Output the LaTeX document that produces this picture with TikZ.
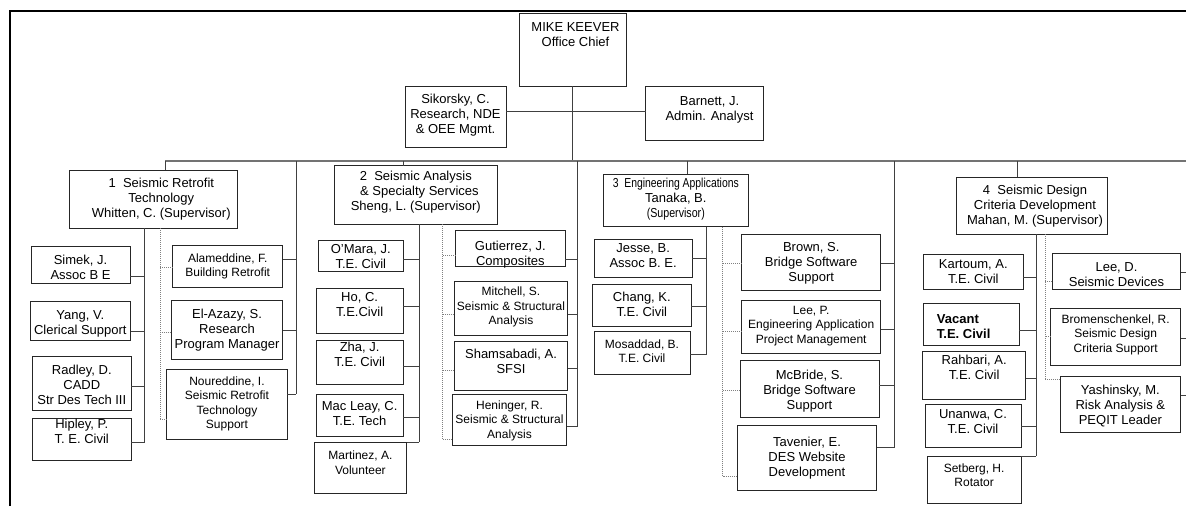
\documentclass[tikz,border=0pt]{standalone}
\usepackage{fontspec}
\usepackage{graphicx}
\setmainfont{Liberation Sans}
\newcommand\ftn{\fontsize{13}{15}\selectfont}
\newcommand\fts{\fontsize{12}{14.5}\selectfont}
\newcommand\bx[8][0]{\node[box,font=#7,anchor=north west,minimum width={(#5)-(#3)},minimum height={(#6)-(#4)}] (#2) at (#3,#4) {\raisebox{-#1pt}[\height][\depth]{\begin{tabular}{@{}c@{}}#8\end{tabular}}};}
\newcommand\bxx[9]{\node[box,font=#7,anchor=north west,minimum width={(#5)-(#3)},minimum height={(#6)-(#4)}] (#2) at (#3,#4) {\hspace*{#9pt}\raisebox{-#1pt}[\height][\depth]{\begin{tabular}{@{}c@{}}#8\end{tabular}}};}
\newcommand\hc[4][ln]{\draw[#1] (#2 |- 0,#4) -- (#3 |- 0,#4);}
\begin{document}
\begin{tikzpicture}[x=1pt,y=-1pt,
  box/.style={draw=black!85,line width=0.8pt,inner sep=0pt,outer sep=0pt,fill=white},
  ln/.style={draw=black!75,line width=0.8pt},
  dl/.style={draw=black!50,line width=0.8pt,dash pattern=on 1pt off 1pt},
  bus/.style={draw=black!55,line width=1.3pt},
  frame/.style={draw=black,line width=2pt}]
\useasboundingbox (0,0) rectangle (1186,506);
\draw[frame] (10,506) -- (10,11) -- (1187,11);
% top level
\bxx{-14}{mike}{519}{13}{626}{86}{\ftn}{MIKE KEEVER\\Office Chief}{6}
\bx[-1.5]{sik}{405}{86}{506}{147}{\ftn}{Sikorsky, C.\\Research, NDE\\\& OEE Mgmt.}
\bxx{-3.5}{bar}{645.5}{86}{763.5}{140.7}{\ftn}{Barnett, J.\\Admin. Analyst}{10}
\coordinate (busL) at (165,161);
\coordinate (busR) at (1186,161);
\coordinate (d2) at (403.3,161);
\coordinate (d3) at (687,161);
\coordinate (d4) at (1017,161);
\coordinate (v1) at (296,161);
\coordinate (v2) at (577.5,161);
\coordinate (v3) at (894.5,161);
\coordinate (v4) at (1187,161);
\draw[ln] (mike.south) -- (mike.south |- busL);
\hc{sik.east}{bar.west}{111}
\draw[bus] (busL) -- (busR);
% group boxes
\bxx{0}{g1}{69.3}{170}{237.3}{228.3}{\ftn}{1~~Seismic Retrofit\\Technology\\Whitten, C. (Supervisor)}{16}
\bx[-2.7]{g2}{334.3}{165.7}{497.3}{224}{\ftn}{2~~Seismic Analysis\\\ \ \& Specialty Services\\Sheng, L. (Supervisor)}
\bx[-1]{g3}{603.3}{174}{748.3}{226.7}{\ftn}{\scalebox{0.8}[1]{3~~Engineering Applications}\\Tanaka, B.\\\scalebox{0.82}[1]{(Supervisor)}}
\bxx{1}{g4}{956.7}{177.3}{1107.3}{234}{\ftn}{4~~Seismic Design\\Criteria Development\\Mahan, M. (Supervisor)}{6}
\draw[ln] (busL) -- (busL |- g1.north);
\draw[ln] (d2) -- (d2 |- g2.north);
\draw[ln] (d3) -- (d3 |- g3.north);
\draw[ln] (d4) -- (d4 |- g4.north);
\draw[ln] (v1) -- (v1 |- 0,394.3);
\draw[ln] (v2) -- (v2 |- 0,426.7);
\draw[ln] (v3) -- (v3 |- 0,447.3);
% group 1
\bx[4]{simek}{31}{246}{130}{283.3}{\ftn}{Simek, J.\\Assoc B E}
\bx[3]{yang}{30}{301.7}{130.7}{340}{\ftn}{Yang, V.\\Clerical Support}
\bx[3]{radley}{32.3}{356}{131.3}{410}{\ftn}{Radley, D.\\CADD\\Str Des Tech III}
\bx[-6]{hipley}{32.3}{418.3}{131.3}{460}{\ftn}{Hipley, P.\\T. E. Civil}
\bx{alam}{172.7}{245}{282.7}{287.7}{\fts}{Alameddine, F.\\Building Retrofit}
\bx[1]{elaz}{171.3}{300}{282.7}{359.3}{\ftn}{El-Azazy, S.\\Research\\Program Manager}
\bx{noured}{166.7}{369.3}{287.3}{439.3}{\fts}{Noureddine, I.\\Seismic Retrofit\\Technology\\Support}
\coordinate (L1) at (144,0);
\coordinate (R1) at (160,0);
\draw[ln] (g1.south -| L1) -- (L1 |- 0,442.7);
\hc{simek.east}{L1}{276}
\hc{yang.east}{L1}{331}
\hc{radley.east}{L1}{386}
\hc{hipley.east}{L1}{442.7}
\draw[dl] (g1.south -| R1) -- (R1 |- 0,419.3);
\hc[dl]{alam.west}{R1}{267.7}
\hc[dl]{elaz.west}{R1}{332.3}
\hc[dl]{noured.west}{R1}{419.3}
\hc{alam.east}{v1}{259.3}
\hc{elaz.east}{v1}{330.7}
\hc{noured.east}{v1}{394.3}
% group 2
\bx[2]{omara}{318.3}{240}{403.3}{271.7}{\ftn}{O'Mara, J.\\T.E. Civil}
\bx[-5]{ho}{316}{288.3}{403.3}{333.3}{\ftn}{Ho, C.\\T.E.Civil}
\bx[-5.7]{zha}{316}{340}{403.3}{384}{\ftn}{Zha, J.\\T.E. Civil}
\bx{macleay}{316}{394}{403.3}{436}{\ftn}{Mac Leay, C.\\T.E. Tech}
\bx[-3.6]{martinez}{314}{442.3}{406.7}{493.3}{\fts}{Martinez, A.\\Volunteer}
\bx[6.5]{gut}{455.7}{230}{565}{266}{\ftn}{Gutierrez, J.\\Composites}
\bx[-1]{mitch}{454.3}{281.7}{567.7}{335}{\fts}{Mitchell, S.\\Seismic \& Structural\\Analysis}
\bx[-3]{shams}{454.3}{341.7}{567.7}{390}{\ftn}{Shamsabadi, A.\\SFSI}
\bx[1]{hen}{452.3}{394.3}{566.7}{445.3}{\fts}{Heninger, R.\\Seismic \& Structural\\Analysis}
\coordinate (L2) at (419.3,0);
\coordinate (R2) at (442.7,0);
\draw[ln] (g2.south -| L2) -- (L2 |- martinez.north east);
\hc{omara.east}{L2}{259}
\hc{ho.east}{L2}{306.7}
\hc{zha.east}{L2}{366}
\hc{macleay.east}{L2}{417.7}
\draw[ln] (martinez.north east) -- (L2 |- martinez.north east);
\draw[dl] (g2.south -| R2) -- (R2 |- 0,439);
\hc[dl]{gut.west}{R2}{255}
\hc[dl]{mitch.west}{R2}{314}
\hc[dl]{shams.west}{R2}{370}
\hc[dl]{hen.west}{R2}{439}
\hc{gut.east}{v2}{259}
\hc{mitch.east}{v2}{314}
\hc{shams.east}{v2}{368.3}
\hc{hen.east}{v2}{426.7}
% group 3
\bx[-1]{jesse}{594}{239}{692.3}{277.7}{\ftn}{Jesse, B.\\Assoc B. E.}
\bx{chang}{592.7}{284.3}{691}{326.7}{\ftn}{Chang, K.\\T.E. Civil}
\bx{mosad}{594}{331}{690}{374.3}{\fts}{Mosaddad, B.\\T.E. Civil}
\bx[1]{brown}{741.7}{234}{880.7}{290}{\ftn}{Brown, S.\\Bridge Software\\Support}
\bx[-1]{leep}{741.7}{300}{880.7}{353.3}{\fts}{Lee, P.\\Engineering Application\\Project Management}
\bx[3]{mcbride}{740}{360}{879}{417.3}{\ftn}{McBride, S.\\Bridge Software\\Support}
\bx{taven}{737.3}{425.7}{876.7}{490.7}{\ftn}{Tavenier, E.\\DES Website\\Development}
\coordinate (L3) at (706.7,0);
\coordinate (R3) at (722.7,0);
\draw[ln] (g3.south -| L3) -- (L3 |- 0,354);
\hc{jesse.east}{L3}{258.3}
\hc{chang.east}{L3}{306}
\hc{mosad.east}{L3}{354}
\draw[dl] (g3.south -| R3) -- (R3 |- 0,476);
\hc[dl]{brown.west}{R3}{263.3}
\hc[dl]{leep.west}{R3}{331.7}
\hc[dl]{mcbride.west}{R3}{390.7}
\hc[dl]{taven.west}{R3}{476}
\hc{brown.east}{v3}{263.3}
\hc{leep.east}{v3}{329.3}
\hc{mcbride.east}{v3}{385.3}
\hc{taven.east}{v3}{447.3}
% group 4
\bx[1]{kart}{923.3}{254.3}{1023.3}{289.3}{\ftn}{Kartoum, A.\\T.E. Civil}
\node[box,font=\ftn,anchor=north west,minimum width=95.7pt,minimum height=41.7pt] (vac) at (923.3,303.3) {\raisebox{-3.5pt}[\height][\depth]{\begin{tabular}{@{}l@{}}\textbf{Vacant}\\\textbf{T.E. Civil}\end{tabular}}\hspace*{15pt}};
\bx[-7]{rahb}{922.7}{351.7}{1025.7}{399.3}{\ftn}{Rahbari, A.\\T.E. Civil}
\bx[-3.5]{unan}{925}{404.3}{1021}{447.7}{\ftn}{Unanwa, C.\\T.E. Civil}
\bx[-3]{setb}{927.3}{456}{1021}{503.3}{\fts}{Setberg, H.\\Rotator}
\bx[4.5]{leed}{1052.3}{253.3}{1180.7}{289.3}{\ftn}{Lee, D.\\Seismic Devices}
\bx[-1.7]{brom}{1050.7}{308.3}{1180.7}{365}{\fts}{Bromenschenkel, R.\\Seismic Design\\Criteria Support}
\bx[2]{yash}{1060}{376.7}{1180.7}{432.7}{\ftn}{Yashinsky, M.\\Risk Analysis \&\\PEQIT Leader}
\coordinate (L4) at (1036,0);
\coordinate (R4) at (1045,0);
\draw[ln] (g4.south -| L4) -- (L4 |- setb.north east);
\hc{kart.east}{L4}{277.3}
\hc{vac.east}{L4}{330}
\hc{rahb.east}{L4}{378.3}
\hc{unan.east}{L4}{426.7}
\draw[ln] (setb.north east) -- (L4 |- setb.north east);
\draw[dl] (g4.south -| R4) -- (R4 |- 0,379);
\hc[dl]{leed.west}{R4}{281.7}
\hc[dl]{brom.west}{R4}{336.7}
\hc[dl]{yash.west}{R4}{379}
\hc{leed.east}{v4}{272.3}
\hc{brom.east}{v4}{338.3}
\hc{yash.east}{v4}{395}
\end{tikzpicture}
\end{document}
